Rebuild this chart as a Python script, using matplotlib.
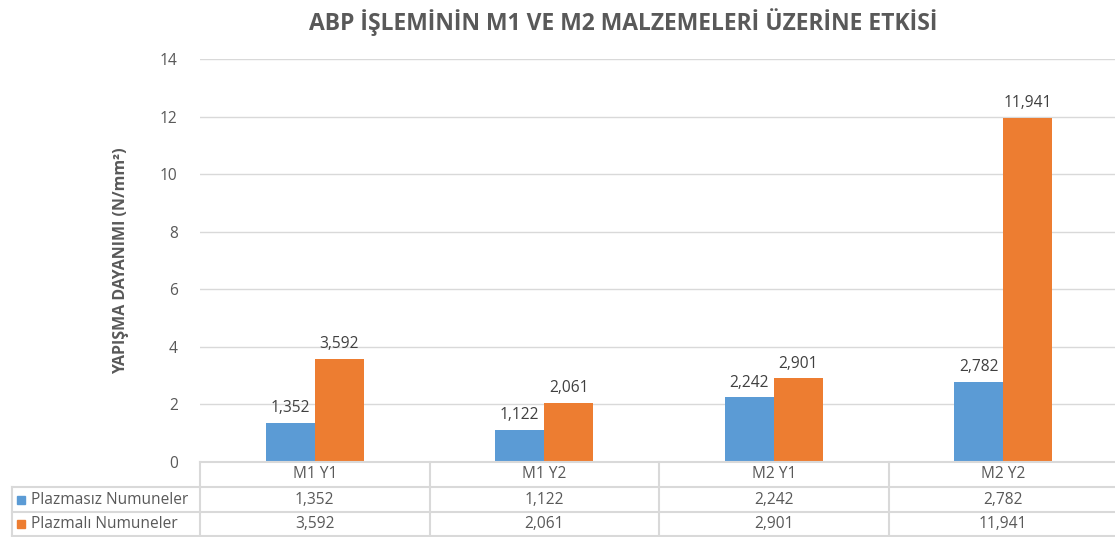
import matplotlib
matplotlib.use("Agg")
import matplotlib.pyplot as plt
from matplotlib.transforms import blended_transform_factory
from matplotlib.lines import Line2D
from matplotlib.patches import Rectangle

categories = ["M1 Y1", "M1 Y2", "M2 Y1", "M2 Y2"]
plazmasiz = [1.352, 1.122, 2.242, 2.782]
plazmali = [3.592, 2.061, 2.901, 11.941]
series_names = ["Plazmasız Numuneler", "Plazmalı Numuneler"]
yticks = [0, 2, 4, 6, 8, 10, 12, 14]
title = "ABP İŞLEMİNİN M1 VE M2 MALZEMELERİ ÜZERİNE ETKİSİ"

BLUE = "#5B9BD5"
ORANGE = "#ED7D31"
TXT = "#595959"
GRID = "#D9D9D9"
plt.rcParams['font.family'] = ['Open Sans', 'DejaVu Sans']

W, H = 1115, 537
fig = plt.figure(figsize=(W / 100, H / 100), dpi=100)

def fx(px):
    return px / W

def fy(py):
    return 1 - py / H

ax_left, ax_right, ax_top, ax_bot = 200, 1118, 59, 462
ax = fig.add_axes([fx(ax_left), fy(ax_bot), fx(ax_right - ax_left), (ax_bot - ax_top) / H])
ax.set_xlim(-0.5, len(categories) - 0.5)
ax.set_ylim(0, 14)

bw = 0.213
xs = list(range(len(categories)))
ax.bar([x - bw / 2 for x in xs], plazmasiz, width=bw, color=BLUE, zorder=3)
ax.bar([x + bw / 2 for x in xs], plazmali, width=bw, color=ORANGE, zorder=3)

def fmt(v):
    return f"{v:.3f}".replace(".", ",")

FS = 11.2
for x, v in zip(xs, plazmasiz):
    ax.annotate(fmt(v), (x - bw / 2, v), xytext=(0, 5), textcoords="offset points",
                ha="center", va="bottom", fontsize=FS, color="#404040")
for x, v in zip(xs, plazmali):
    ax.annotate(fmt(v), (x + bw / 2, v), xytext=(0, 5), textcoords="offset points",
                ha="center", va="bottom", fontsize=FS, color="#404040")

ax.set_yticks(yticks)
ax.set_yticklabels([str(t) for t in yticks], fontsize=FS, color=TXT)
ax.tick_params(axis="y", length=0, pad=16)
ax.set_xticks([])
ax.grid(axis="y", color=GRID, linewidth=1, zorder=0)
for s in ax.spines.values():
    s.set_visible(False)

ax.set_ylabel("YAPIŞMA DAYANIMI (N/mm²)", fontsize=11.5, fontweight="bold", color=TXT, labelpad=22)

fig.text(fx(623), fy(22), title, ha="center", va="center", fontsize=16.5,
         fontweight="bold", color=TXT)

# Data table
tcol = "#D9D9D9"
row_lines = [462, 487, 512, 536]
tleft = 12
fig.add_artist(Line2D([fx(ax_left), 1], [fy(462)] * 2, color=tcol, lw=1.5, transform=fig.transFigure))
for r in row_lines[1:]:
    fig.add_artist(Line2D([fx(tleft), 1], [fy(r)] * 2, color=tcol, lw=1.5, transform=fig.transFigure))
fig.add_artist(Line2D([fx(tleft)] * 2, [fy(487), fy(536)], color=tcol, lw=1.5, transform=fig.transFigure))
trans = blended_transform_factory(ax.transData, fig.transFigure)
for i in range(len(categories) + 1):
    xb = i - 0.5
    fig.add_artist(Line2D([xb, xb], [fy(462), fy(536)], color=tcol, lw=1.5, transform=trans))

row_centers = [474.5, 499.5, 524]
for x, c in zip(xs, categories):
    fig.text(x, fy(row_centers[0]), c, transform=trans, ha="center", va="center", fontsize=FS, color=TXT)
for x, v in zip(xs, plazmasiz):
    fig.text(x, fy(row_centers[1]), fmt(v), transform=trans, ha="center", va="center", fontsize=FS, color=TXT)
for x, v in zip(xs, plazmali):
    fig.text(x, fy(row_centers[2]), fmt(v), transform=trans, ha="center", va="center", fontsize=FS, color=TXT)

for name, col, yc in zip(series_names, [BLUE, ORANGE], row_centers[1:]):
    fig.add_artist(Rectangle((fx(17), fy(yc + 4)), 8 / W, 8 / H, color=col, transform=fig.transFigure))
    fig.text(fx(31), fy(yc), name, ha="left", va="center", fontsize=FS, color=TXT)

fig.savefig("out.png", dpi=100)
